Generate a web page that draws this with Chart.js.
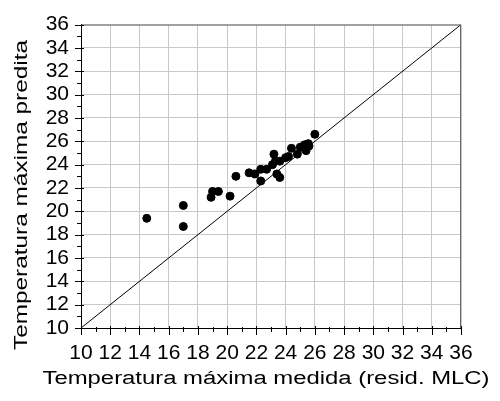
<!DOCTYPE html>
<html>
<head>
<meta charset="utf-8">
<script src="https://cdn.jsdelivr.net/npm/chart.js@4/dist/chart.umd.min.js"></script>
<style>
  html, body { margin: 0; padding: 0; background: #fff; }
  #wrap { width: 500px; height: 401px; }
</style>
</head>
<body>
<div id="wrap"><canvas id="chart"></canvas></div>
<script>
// measured vs predicted max temperature
const measured = [14.5, 17.0, 17.0, 18.9, 19.0, 19.4, 20.2, 20.6, 21.5, 21.9, 22.3, 22.3,
  22.7, 23.1, 23.2, 23.3, 23.4, 23.6, 23.6, 24.0, 24.2, 24.4, 24.8, 25.0, 25.3, 25.4,
  25.55, 25.6, 26.0];
const predicted = [19.4, 20.5, 18.7, 21.2, 21.7, 21.7, 21.3, 23.0, 23.3, 23.2, 23.6, 22.6,
  23.6, 24.0, 24.9, 24.3, 23.2, 22.9, 24.3, 24.6, 24.7, 25.4, 24.9, 25.5, 25.7, 25.2,
  25.8, 25.6, 26.6];
const lineEnds = [10, 36];
const axisMin = 10;
const axisMax = 36;
const xTitle = "Temperatura máxima medida (resid. MLC)";
const yTitle = "Temperatura máxima predita";

const FONT = "'Liberation Sans', Arial, sans-serif";

// tick marks, frame and (stretched) axis titles
const decorPlugin = {
  id: "decor",
  afterDraw(chart) {
    const ctx = chart.ctx;
    const xs = chart.scales.x, ys = chart.scales.y;
    const a = chart.chartArea;
    ctx.save();
    ctx.strokeStyle = "#666";
    ctx.lineWidth = 1;
    ctx.beginPath();
    ctx.moveTo(a.left, a.top + 0.5);
    ctx.lineTo(a.right - 0.5, a.top + 0.5);
    ctx.lineTo(a.right - 0.5, a.bottom);
    ctx.stroke();

    ctx.strokeStyle = "#000";
    ctx.beginPath();
    for (let v = axisMin; v <= axisMax; v++) {
      const major = v % 2 === 0;
      const px = Math.round(xs.getPixelForValue(v)) + 0.5;
      ctx.moveTo(px, a.bottom + (major ? 7 : 4));
      ctx.lineTo(px, a.bottom - (major ? 2 : 1));
      const py = Math.round(ys.getPixelForValue(v)) + 0.5;
      ctx.moveTo(a.left - (major ? 6 : 4), py);
      ctx.lineTo(a.left + (major ? 3 : 1), py);
    }
    ctx.stroke();

    ctx.fillStyle = "#000";
    ctx.font = "18px " + FONT;
    ctx.textAlign = "center";
    ctx.textBaseline = "alphabetic";

    let w = ctx.measureText(xTitle).width;
    ctx.save();
    ctx.translate(266, 384);
    ctx.scale(447 / w, 1);
    ctx.fillText(xTitle, 0, 0);
    ctx.restore();

    w = ctx.measureText(yTitle).width;
    ctx.save();
    ctx.translate(27, 195);
    ctx.rotate(-Math.PI / 2);
    ctx.scale(310 / w, 1);
    ctx.fillText(yTitle, 0, 0);
    ctx.restore();

    ctx.restore();
  }
};

new Chart(document.getElementById("chart"), {
  type: "scatter",
  data: {
    datasets: [
      {
        type: "line",
        data: lineEnds.map((v) => ({ x: v, y: v })),
        borderColor: "#000",
        borderWidth: 1,
        pointRadius: 0,
        fill: false,
      },
      {
        data: measured.map((m, i) => ({ x: m, y: predicted[i] })),
        backgroundColor: "#000",
        borderColor: "#000",
        pointRadius: 4,
        pointHoverRadius: 4,
      },
    ],
  },
  options: {
    responsive: true,
    maintainAspectRatio: false,
    animation: false,
    events: [],
    layout: { padding: { left: 0, right: 39, top: 23, bottom: 0 } },
    plugins: { legend: { display: false }, tooltip: { enabled: false } },
    scales: {
      x: {
        type: "linear",
        min: axisMin,
        max: axisMax,
        afterFit: (s) => { s.height = 73; },
        border: { color: "#000", width: 1 },
        grid: {
          drawTicks: false,
          color: (c) => (c.tick && c.tick.value % 2 === 0 ? "#c8c8c8" : "rgba(0,0,0,0)"),
        },
        ticks: {
          stepSize: 1,
          autoSkip: false,
          maxRotation: 0,
          padding: 13,
          color: "#000",
          font: { family: FONT, size: 21 },
          callback: (v) => (v % 2 === 0 ? v : ""),
        },
      },
      y: {
        type: "linear",
        min: axisMin,
        max: axisMax,
        afterFit: (s) => { s.width = 81; },
        border: { color: "#000", width: 1 },
        grid: {
          drawTicks: false,
          color: (c) => (c.tick && c.tick.value % 2 === 0 ? "#c8c8c8" : "rgba(0,0,0,0)"),
        },
        ticks: {
          stepSize: 1,
          autoSkip: false,
          padding: 12,
          color: "#000",
          font: { family: FONT, size: 21 },
          callback: (v) => (v % 2 === 0 ? v : ""),
        },
      },
    },
  },
  plugins: [decorPlugin],
});
</script>
</body>
</html>
